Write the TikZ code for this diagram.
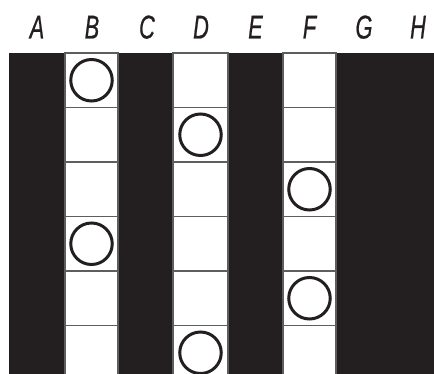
\documentclass[tikz,border=0pt]{standalone}
\usepackage{fontspec}
\newfontfamily\labfont[FakeStretch=0.66,FakeBold=0.6]{Liberation Sans}
\definecolor{ink}{HTML}{231F20}
\definecolor{rule}{HTML}{5E5E5E}
\tikzset{
  collabel/.style={font=\labfont\itshape\fontsize{33}{33}\selectfont, text=ink, inner sep=0pt, anchor=base},
  darkcol/.style={fill=ink, draw=none},
  cellbox/.style={fill=white, draw=rule, line width=1.1pt},
  peg/.style={circle, draw=ink, line width=3pt, minimum size=41.5pt, inner sep=0pt}
}
\begin{document}
\begin{tikzpicture}[x=1pt,y=-1pt]
\useasboundingbox (0,0) rectangle (434,374);
\fill[white] (0,0) rectangle (434,374);
% column labels
\foreach \n/\x in {A/37,B/92,C/147,D/201,E/255.5,F/309.5,G/364,H/418}
  \node[collabel] (lab\n) at (\x,38.5) {\n};
% dark columns
\fill[darkcol] (9,53) rectangle (65,374);
\fill[darkcol] (118,53) rectangle (173,374);
\fill[darkcol] (228,53) rectangle (283,374);
\fill[darkcol] (336,53) rectangle (434,374);
% white cells
\foreach \x/\w in {65/118,173/228,283/336}
  \foreach \y in {53,107.5,162,216.5,271,325.5}
    \draw[cellbox] (\x,\y) rectangle (\w,\y+54.5);
% circles
\node[peg] (p1) at (91.5,80.25) {};
\node[peg] (p2) at (200.5,134.75) {};
\node[peg] (p3) at (309.5,189.25) {};
\node[peg] (p4) at (91.5,243.75) {};
\node[peg] (p5) at (309.5,298.25) {};
\node[peg] (p6) at (200.5,352.75) {};
\end{tikzpicture}
\end{document}
